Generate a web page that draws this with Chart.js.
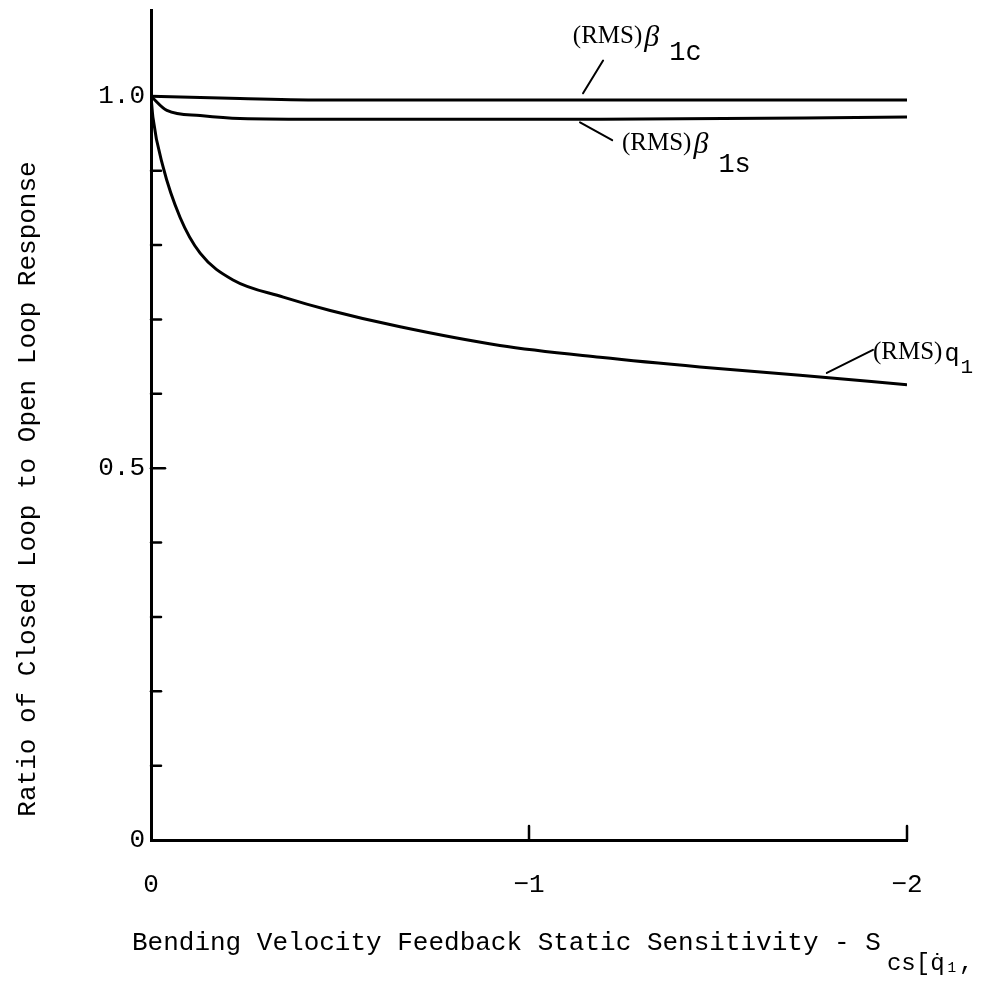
<!DOCTYPE html>
<html>
<head>
<meta charset="utf-8">
<title>Ratio of Closed Loop to Open Loop Response</title>
<script src="https://cdn.jsdelivr.net/npm/chart.js@4.4.1/dist/chart.umd.min.js"></script>
<style>
  html, body { margin: 0; padding: 0; background: #fff; }
  canvas { display: block; }
</style>
</head>
<body>
<canvas id="chart" width="983" height="987"></canvas>
<script>
// feedback sensitivity (x) and closed/open loop ratio (y)
const beta1cX = [0, -0.235, -0.47, -1.19, -2.0];
const beta1cY = [1.0, 0.997, 0.995, 0.995, 0.995];
const beta1sX = [0, -0.042, -0.13, -0.235, -0.47, -1.19, -2.0];
const beta1sY = [1.0, 0.981, 0.974, 0.970, 0.969, 0.969, 0.972];
const q1X = [0, -0.005, -0.032, -0.077, -0.13, -0.217, -0.35, -0.474, -0.659, -0.923, -1.188, -1.452, -1.717, -2.0];
const q1Y = [1.0, 0.972, 0.905, 0.837, 0.789, 0.753, 0.730, 0.712, 0.690, 0.665, 0.649, 0.636, 0.625, 0.612];

const xTicks = [0, -1, -2];
const yTicks = [0, 0.5, 1.0];
const yMinorTicks = [0.1, 0.2, 0.3, 0.4, 0.5, 0.6, 0.7, 0.8, 0.9];
const xMinorTicks = [-1, -2];

const mono = '"Liberation Mono", "DejaVu Sans Mono", monospace';
const serif = '"Liberation Serif", "DejaVu Serif", serif';

function toPoints(xs, ys) {
  return xs.map((x, i) => ({ x: x, y: ys[i] }));
}

// typed labels, leader lines, inward ticks and axis titles
const overlay = {
  id: 'overlay',
  afterDraw(chart) {
    const { ctx, scales: { x, y } } = chart;
    const P = (a, b) => [x.getPixelForValue(a), y.getPixelForValue(b)];
    ctx.save();
    ctx.strokeStyle = '#000';
    ctx.fillStyle = '#000';
    ctx.lineCap = 'round';

    // ticks point into the plot
    ctx.lineWidth = 2.5;
    yMinorTicks.forEach(v => {
      const py = y.getPixelForValue(v);
      ctx.beginPath();
      ctx.moveTo(x.left, py);
      ctx.lineTo(x.left + (v === 0.5 ? 14 : 10), py);
      ctx.stroke();
    });
    xMinorTicks.forEach(v => {
      const px = x.getPixelForValue(v);
      ctx.beginPath();
      ctx.moveTo(px, y.bottom);
      ctx.lineTo(px, y.bottom - 14);
      ctx.stroke();
    });

    // leader lines
    ctx.lineWidth = 2;
    const leaders = [
      [[-1.196, 1.048], [-1.143, 1.004]],
      [[-1.135, 0.965], [-1.220, 0.941]],
      [[-1.788, 0.628], [-1.910, 0.659]]
    ];
    leaders.forEach(([a, b]) => {
      const p1 = P(a[0], a[1]), p2 = P(b[0], b[1]);
      ctx.beginPath();
      ctx.moveTo(p1[0], p1[1]);
      ctx.lineTo(p2[0], p2[1]);
      ctx.stroke();
    });

    // curve labels
    ctx.textBaseline = 'middle';
    ctx.textAlign = 'left';
    const curveLabel = (at, greek, sub, subDy) => {
      const [px, py] = P(at[0], at[1]);
      ctx.font = '25px ' + serif;
      ctx.fillText('(RMS)', px, py);
      let cx = px + ctx.measureText('(RMS)').width + 2;
      if (greek === 'β') {
        ctx.font = 'italic 30px ' + serif;
        ctx.fillText('β', cx, py + 2);
        cx += ctx.measureText('β').width + 10;
        ctx.font = '27px ' + mono;
        ctx.fillText(sub, cx, py + subDy);
      } else {
        ctx.font = '25px ' + mono;
        ctx.fillText(greek, cx, py + 2);
        cx += ctx.measureText(greek).width + 1;
        ctx.font = '21px ' + mono;
        ctx.fillText(sub, cx, py + subDy);
      }
    };
    curveLabel([-1.116, 1.081], 'β', '1c', 17);
    curveLabel([-1.246, 0.937], 'β', '1s', 22);
    curveLabel([-1.910, 0.656], 'q', '1', 15);

    // x axis title with subscript
    ctx.textBaseline = 'alphabetic';
    ctx.font = '26px ' + mono;
    const xTitle = 'Bending Velocity Feedback Static Sensitivity - S';
    const tx = 132, ty = 950;
    ctx.fillText(xTitle, tx, ty);
    const sx = tx + ctx.measureText(xTitle).width + 6;
    ctx.font = '24px ' + mono;
    ctx.fillText('cs[q̇₁,', sx, ty + 20);

    // y axis title
    ctx.translate(28, 489);
    ctx.rotate(-Math.PI / 2);
    ctx.textAlign = 'center';
    ctx.textBaseline = 'middle';
    ctx.font = '26px ' + mono;
    ctx.fillText('Ratio of Closed Loop to Open Loop Response', 0, 0);
    ctx.restore();
  }
};

const lineStyle = {
  borderColor: '#000',
  borderWidth: 3,
  pointRadius: 0,
  fill: false,
  cubicInterpolationMode: 'monotone'
};

new Chart(document.getElementById('chart'), {
  type: 'line',
  data: {
    datasets: [
      Object.assign({ label: '(RMS)β1c', data: toPoints(beta1cX, beta1cY) }, lineStyle),
      Object.assign({ label: '(RMS)β1s', data: toPoints(beta1sX, beta1sY) }, lineStyle),
      Object.assign({ label: '(RMS)q1', data: toPoints(q1X, q1Y) }, lineStyle)
    ]
  },
  options: {
    responsive: false,
    animation: false,
    layout: { padding: { top: 10, right: 76, left: 0, bottom: 0 } },
    plugins: {
      legend: { display: false },
      tooltip: { enabled: false }
    },
    scales: {
      x: {
        type: 'linear',
        min: -2,
        max: 0,
        reverse: true,
        afterBuildTicks: s => { s.ticks = xTicks.map(v => ({ value: v })); },
        afterFit: s => { s.height = 147; s.paddingLeft = 0; s.paddingRight = 0; },
        grid: { display: false, drawTicks: false },
        border: { display: true, color: '#000', width: 3 },
        ticks: {
          color: '#000',
          font: { family: mono, size: 26 },
          padding: 30,
          maxRotation: 0,
          callback: v => String(v).replace('-', '−')
        }
      },
      y: {
        type: 'linear',
        min: 0,
        max: 1.116,
        afterBuildTicks: s => { s.ticks = yTicks.map(v => ({ value: v })); },
        afterFit: s => { s.width = 151; s.paddingTop = 0; s.paddingBottom = 0; },
        grid: { display: false, drawTicks: false },
        border: { display: true, color: '#000', width: 3 },
        ticks: {
          color: '#000',
          font: { family: mono, size: 26 },
          padding: 6,
          callback: v => (v === 0 ? '0' : v.toFixed(1))
        }
      }
    }
  },
  plugins: [overlay]
});
</script>
</body>
</html>
